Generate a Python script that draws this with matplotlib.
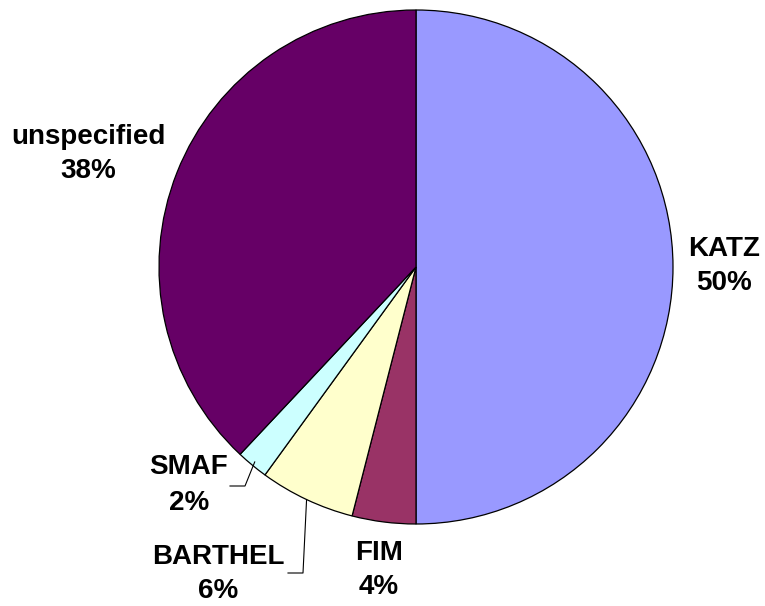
import numpy as np
import matplotlib.pyplot as plt

plt.rcParams['font.family'] = ['Liberation Sans', 'DejaVu Sans']

# Data
labels = ['KATZ', 'FIM', 'BARTHEL', 'SMAF', 'unspecified']
shares = [50, 4, 6, 2, 38]
colors = ['#9999FF', '#993366', '#FFFFCC', '#CCFFFF', '#660066']

W, H = 765, 606
fig = plt.figure(figsize=(W / 100, H / 100), dpi=100)
ax = fig.add_axes([0, 0, 1, 1])
ax.set_aspect('equal')

cx, cy, r = 416, H - 267, 257
wedges, _ = ax.pie(shares, colors=colors, startangle=90, counterclock=False,
                   center=(cx, cy), radius=r, frame=True,
                   wedgeprops=dict(edgecolor='black', linewidth=0.9))
ax.set_xlim(0, W)
ax.set_ylim(0, H)
ax.axis('off')

# label positions (pixel coords, top-left origin)
label_pos = {
    'KATZ': (724, 266),
    'FIM': (379, 570),
    'BARTHEL': (218, 574),
    'SMAF': (189, 485),
    'unspecified': (88, 154),
}
for lab, val in zip(labels, shares):
    px, py = label_pos[lab]
    ax.text(px, H - py, f'{lab}\n{val}%', ha='center', va='center',
            fontsize=20, fontweight='bold', linespacing=1.45)

# leader lines for small slices
def edge_point(idx, inset=4):
    start = sum(shares[:idx])
    mid = start + shares[idx] / 2
    ang = np.deg2rad(90 - mid / sum(shares) * 360)
    return cx + (r - inset) * np.cos(ang), cy + (r - inset) * np.sin(ang)

x0, y0 = edge_point(3)
ax.plot([x0, 245, 230], [y0, H - 486, H - 486], color='black', lw=0.8)
x0, y0 = edge_point(2, inset=0)
ax.plot([x0, 303, 288], [y0, H - 573, H - 573], color='black', lw=0.8)

fig.savefig('out.png', dpi=100)
